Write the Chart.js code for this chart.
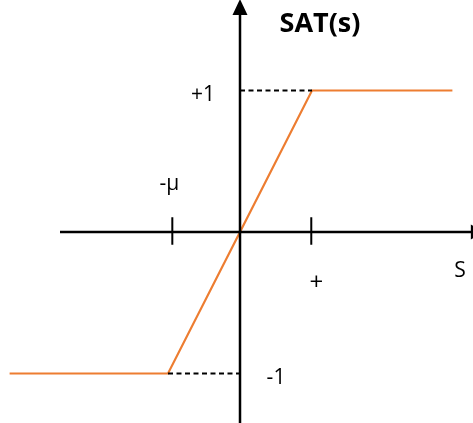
<!DOCTYPE html>
<html lang="en">
<head>
    <meta charset="UTF-8">
    <title>SAT(s)</title>
    <script src="https://cdn.jsdelivr.net/npm/chart.js@4.4.1/dist/chart.umd.min.js"></script>
    <style>
        body { margin: 0; background: #fff; }
    </style>
</head>
<body>
<canvas id="satChart" width="473" height="423"></canvas>
<script>
    // saturation function: flat at -1, linear through 0, flat at +1
    var sValues = [-3.2, -1, 0, 1, 2.95];
    var satValues = [-1, -1, 0, 1, 1];
    // small tick marks on the s axis
    var tickPositions = [-0.94, 0.99];
    // axis extents (s axis, SAT axis)
    var sAxisRange = [-2.5, 3.22];
    var satAxisRange = [-1.36, 1.54];
    var titleText = "SAT(s)";
    var axisText = "S";

    function pts(xs, ys) {
        var out = [];
        for (var i = 0; i < xs.length; i++) out.push({x: xs[i], y: ys[i]});
        return out;
    }

    var datasets = [];
    // horizontal and vertical axes
    datasets.push({data: pts(sAxisRange, [0, 0]), borderColor: "#000", borderWidth: 2.5});
    datasets.push({data: pts([0, 0], satAxisRange), borderColor: "#000", borderWidth: 2.5});
    // ticks
    tickPositions.forEach(function (t) {
        datasets.push({data: pts([t, t], [0.105, -0.09]), borderColor: "#000", borderWidth: 2});
    });
    // dashed guides from the corners to the vertical axis
    datasets.push({data: pts([0, sValues[3]], [satValues[3], satValues[3]]), borderColor: "#000", borderWidth: 2, borderDash: [5, 3.5]});
    datasets.push({data: pts([sValues[1], 0], [satValues[1], satValues[1]]), borderColor: "#000", borderWidth: 2, borderDash: [5, 3.5]});
    // the SAT curve
    datasets.push({data: pts(sValues, satValues), borderColor: "#ED7D31", borderWidth: 2.2});

    // arrowheads and text labels
    var annotate = {
        id: "annotate",
        afterDatasetsDraw: function (chart) {
            var c = chart.ctx, xs = chart.scales.x, ys = chart.scales.y;
            var ox = xs.getPixelForValue(0), oy = ys.getPixelForValue(0);
            var xEnd = xs.getPixelForValue(sAxisRange[1]);
            var yEnd = ys.getPixelForValue(satAxisRange[1]);
            c.save();
            c.fillStyle = "#000";
            c.beginPath();
            c.moveTo(xEnd + 13, oy);
            c.lineTo(xEnd - 1, oy - 7.5);
            c.lineTo(xEnd - 1, oy + 7.5);
            c.closePath();
            c.fill();
            c.beginPath();
            c.moveTo(ox, yEnd - 15);
            c.lineTo(ox - 7.5, yEnd + 1);
            c.lineTo(ox + 7.5, yEnd + 1);
            c.closePath();
            c.fill();

            c.textAlign = "center";
            c.textBaseline = "middle";
            c.font = "bold 27px 'Open Sans'";
            c.fillText(titleText, 320, 24);
            c.font = "21px 'Open Sans'";
            c.fillText("+" + satValues[4], ox - 37, ys.getPixelForValue(satValues[4]) + 5);
            c.fillText(String(satValues[0]), ox + 36, ys.getPixelForValue(satValues[0]) + 5);
            c.fillText("-\u00b5", xs.getPixelForValue(tickPositions[0]) - 3, oy - 48);
            c.fillText(axisText, 460, oy + 39);
            c.font = "24px 'Open Sans'";
            c.fillText("+", xs.getPixelForValue(tickPositions[1]) + 5, oy + 51);
            c.restore();
        }
    };

    new Chart(document.getElementById("satChart"), {
        type: "line",
        data: {datasets: datasets},
        options: {
            responsive: false,
            animation: false,
            layout: {padding: 0},
            elements: {point: {radius: 0}, line: {tension: 0}},
            datasets: {line: {clip: false, fill: false}},
            plugins: {legend: {display: false}, tooltip: {enabled: false}},
            scales: {
                x: {type: "linear", display: false, min: -240 / 72, max: 233 / 72},
                y: {type: "linear", display: false, min: -191 / 141.5, max: 232 / 141.5}
            }
        },
        plugins: [annotate]
    });
</script>
</body>
</html>
